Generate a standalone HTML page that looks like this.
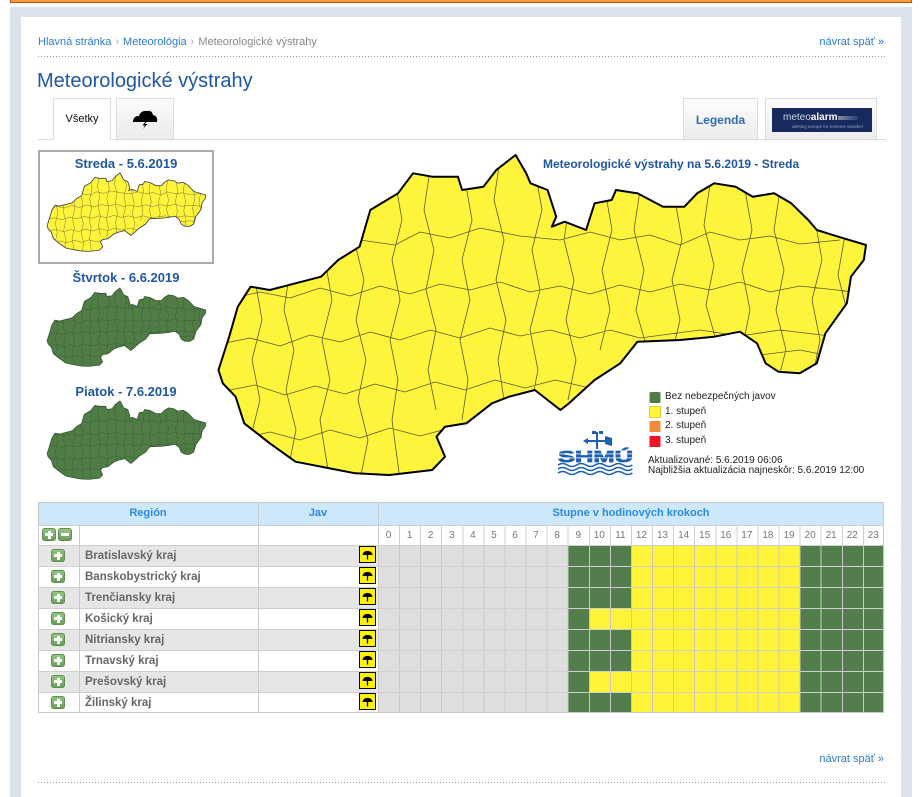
<!DOCTYPE html>
<html><head><meta charset="utf-8">
<style>
*{margin:0;padding:0;box-sizing:border-box}
body{width:923px;height:797px;overflow:hidden;background:#fff;position:relative;font-family:"Liberation Sans",Arial,sans-serif}
.a{position:absolute}
.lnk{color:#2b7bd0}
.sep{color:#aaa;margin:0 4px}
.dot{position:absolute;height:1px;background:linear-gradient(to right,#9a9a9a 1px,transparent 1px);background-size:3px 1px}
.pl{position:absolute;width:14px;height:13px;border-radius:3px;background:linear-gradient(#98c888,#689b59);box-shadow:inset 0 0 0 1px #5f9051}
.pl:before{content:"";position:absolute;left:3px;top:5px;width:8px;height:3px;background:#fff}
.pl.p:after{content:"";position:absolute;left:5.5px;top:2.5px;width:3px;height:8px;background:#fff}
.row{position:absolute;left:38px;width:846px;height:21px;border-top:1px solid #cfcfcf}
.g{background:#e6e6e6}
.w{background:#fff}
.rt{position:absolute;left:47px;top:0;line-height:20px;font-size:11.5px;font-weight:bold;color:#666}
.hr{position:absolute;left:340px;top:0;width:506px;height:20px}
.n{background:repeating-linear-gradient(to right,#c9c9c9 0 1px,transparent 1px 21.0833px),linear-gradient(to right,#dedede 0 189.75px,#527e4b 189.75px 253px,#fff43a 253px 421.67px,#527e4b 421.67px)}
.s{background:repeating-linear-gradient(to right,#c9c9c9 0 1px,transparent 1px 21.0833px),linear-gradient(to right,#dedede 0 189.75px,#527e4b 189.75px 210.83px,#fff43a 210.83px 421.67px,#527e4b 421.67px)}
.vl{position:absolute;width:1px;background:#cbcbcb}
.th{position:absolute;top:502px;height:23px;line-height:23px;text-align:center;font-size:11px;font-weight:bold;color:#2a8be0}
.tt{position:absolute;font-size:13px;font-weight:bold;color:#1f57a4;text-align:center;line-height:16px}
.hn{position:absolute;left:378px;top:526px;width:506px;height:19px;display:flex;background:repeating-linear-gradient(to right,#cfcfcf 0 1px,transparent 1px 21.0833px)}
.hn span{flex:1;text-align:center;font-size:10px;line-height:19px;color:#777}
.lg{position:absolute;left:665px;font-size:10px;line-height:12px;color:#222}
</style></head><body>

<!-- top orange strip -->
<div class="a" style="left:10px;top:-10px;width:902px;height:13px;background:#f2a03a;border:1px solid #c0501a"></div>
<!-- side band -->
<div class="a" style="left:10px;top:7px;width:902px;height:790px;background:#dae2ec"></div>
<!-- white panel -->
<div class="a" style="left:21px;top:17px;width:880px;height:780px;background:#fff"></div>

<!-- breadcrumb -->
<div class="a" style="left:38px;top:35px;font-size:11px;line-height:14px;color:#888;white-space:nowrap"><span class="lnk">Hlavná stránka</span><span class="sep">›</span><span class="lnk">Meteorológia</span><span class="sep">›</span>Meteorologické výstrahy</div>
<div class="a" style="right:39px;top:35px;font-size:11px;line-height:14px;color:#2b7bd0;white-space:nowrap">návrat späť »</div>
<div class="dot" style="left:38px;top:56px;width:848px"></div>

<!-- title -->
<div class="a" style="left:37px;top:68px;font-size:20px;line-height:26px;color:#1f57a4;white-space:nowrap">Meteorologické výstrahy</div>

<!-- tabs -->
<div class="a" style="left:38px;top:139px;width:848px;height:1px;background:#dcdcdc"></div>
<div class="a" style="left:53px;top:98px;width:58px;height:42px;background:#fff;border:1px solid #ddd;border-bottom:none;font-size:11px;line-height:40px;text-align:center;color:#111">Všetky</div>
<div class="a" style="left:116px;top:98px;width:58px;height:41px;background:linear-gradient(#fbfbfb,#ebebeb);border:1px solid #ddd;border-bottom:none"></div>
<div class="a" style="left:683px;top:98px;width:75px;height:41px;background:linear-gradient(#fdfdfd,#ececec);border:1px solid #ddd;border-bottom:none;font-size:12px;font-weight:bold;line-height:42px;text-align:center;color:#2c6cb8">Legenda</div>
<div class="a" style="left:765px;top:98px;width:112px;height:41px;background:linear-gradient(#fdfdfd,#ececec);border:1px solid #ddd;border-bottom:none"></div>
<div class="a" style="left:772px;top:108px;width:100px;height:24px;background:#172a5c"></div>
<div class="a" style="left:783px;top:112px;font-size:10px;line-height:11px;color:#c9d6ea;white-space:nowrap">meteo<b style="color:#fff">alarm</b></div>
<div class="a" style="left:838px;top:116px;width:20px;height:4px;background:linear-gradient(to right,#7f8fb0,#2a3d6c)"></div>
<div class="a" style="left:792px;top:124px;font-size:4.5px;line-height:5px;color:#8fa0c0;white-space:nowrap">alerting europe for extreme weather</div>

<!-- left thumbnails frame & titles -->
<div class="a" style="left:38px;top:150px;width:176px;height:114px;border:2px solid #ababab"></div>
<div class="tt" style="left:38px;top:156px;width:176px">Streda - 5.6.2019</div>
<div class="tt" style="left:38px;top:270px;width:176px">Štvrtok - 6.6.2019</div>
<div class="tt" style="left:38px;top:384px;width:176px">Piatok - 7.6.2019</div>

<!-- big map title -->
<div class="a" style="left:543px;top:157px;font-size:12px;font-weight:bold;line-height:14px;color:#1f57a4;white-space:nowrap">Meteorologické výstrahy na 5.6.2019 - Streda</div>

<!-- legend text -->
<div class="lg" style="top:391px">Bez nebezpečných javov</div>
<div class="lg" style="top:406px">1. stupeň</div>
<div class="lg" style="top:420px">2. stupeň</div>
<div class="lg" style="top:435px">3. stupeň</div>
<div class="a" style="left:648px;top:456px;font-size:10px;line-height:9.5px;color:#222;white-space:nowrap">Aktualizované: 5.6.2019 06:06<br>Najbližšia aktualizácia najneskôr: 5.6.2019 12:00</div>

<!-- table header -->
<div class="a" style="left:38px;top:502px;width:846px;height:23px;background:#cde8fa"></div>
<div class="th" style="left:38px;width:220px">Región</div>
<div class="th" style="left:258px;width:120px">Jav</div>
<div class="th" style="left:378px;width:506px">Stupne v hodinových krokoch</div>

<!-- hours row -->
<div class="row w" style="top:525px;height:20px"></div>
<div class="pl p" style="left:42px;top:528px"></div>
<div class="pl" style="left:58px;top:528px"></div>
<div class="hn"><span>0</span><span>1</span><span>2</span><span>3</span><span>4</span><span>5</span><span>6</span><span>7</span><span>8</span><span>9</span><span>10</span><span>11</span><span>12</span><span>13</span><span>14</span><span>15</span><span>16</span><span>17</span><span>18</span><span>19</span><span>20</span><span>21</span><span>22</span><span>23</span></div>

<!-- data rows -->
<div class="row g" style="top:545px"><div class="rt">Bratislavský kraj</div><div class="hr n"></div></div>
<div class="row w" style="top:566px"><div class="rt">Banskobystrický kraj</div><div class="hr n"></div></div>
<div class="row g" style="top:587px"><div class="rt">Trenčiansky kraj</div><div class="hr n"></div></div>
<div class="row w" style="top:608px"><div class="rt">Košický kraj</div><div class="hr s"></div></div>
<div class="row g" style="top:629px"><div class="rt">Nitriansky kraj</div><div class="hr n"></div></div>
<div class="row w" style="top:650px"><div class="rt">Trnavský kraj</div><div class="hr n"></div></div>
<div class="row g" style="top:671px"><div class="rt">Prešovský kraj</div><div class="hr s"></div></div>
<div class="row w" style="top:692px"><div class="rt">Žilinský kraj</div><div class="hr n"></div></div>

<div class="pl p" style="left:51px;top:549px"></div>
<div class="pl p" style="left:51px;top:570px"></div>
<div class="pl p" style="left:51px;top:591px"></div>
<div class="pl p" style="left:51px;top:612px"></div>
<div class="pl p" style="left:51px;top:633px"></div>
<div class="pl p" style="left:51px;top:654px"></div>
<div class="pl p" style="left:51px;top:675px"></div>
<div class="pl p" style="left:51px;top:696px"></div>

<!-- column dividers -->
<div class="vl" style="left:79px;top:525px;height:188px"></div>
<div class="vl" style="left:258px;top:502px;height:211px"></div>
<div class="vl" style="left:378px;top:502px;height:211px"></div>
<!-- outer border -->
<div class="a" style="left:38px;top:502px;width:846px;height:211px;border:1px solid #c8c8c8"></div>

<!-- bottom -->
<div class="a" style="right:39px;top:752px;font-size:11px;line-height:14px;color:#2b7bd0;white-space:nowrap">návrat späť »</div>
<div class="dot" style="left:38px;top:782px;width:848px"></div>

<svg class="a" style="left:0;top:0" width="923" height="797" viewBox="0 0 923 797">
<defs>
<path id="sk" d="M218.5,370 L229.2,336.7 L237.8,306.7 L250.6,286.7 L269.8,290 L295.5,283.3 L321.1,276.7 L338.2,260 L359.6,246.7 L370.3,210 L398,193.3 L413,173.3 L432.2,176.7 L457.9,176.7 L462.1,190 L483.5,186.7 L496.3,170 L504.9,163.3 L515.6,155 L526.2,173.3 L530.5,183.3 L547.6,190 L556.2,216.7 L551.9,226.7 L564.7,221.7 L586.1,230 L594.6,203.3 L611.7,200 L616,190 L637.4,193.3 L663,206.7 L684.4,206.7 L697.2,193.3 L714.3,183.3 L735.6,186.7 L752.7,196.7 L774.1,193.3 L791.2,203.3 L808.3,220 L816.8,230 L838.2,236.7 L866,245 L863.8,260 L851,276.7 L846.8,303.3 L825.4,333.3 L816.8,363.3 L799.7,373.3 L778.4,371.7 L765.6,363.3 L757,343.3 L739.9,331.7 L714.3,336.7 L680.1,340 L637.4,341.7 L620.3,363.3 L594.6,380 L569,403.3 L560.4,410 L534.8,390 L509.1,396.7 L492,403.3 L466.4,423.3 L445,426.7 L436.5,436.7 L445,456.7 L432.2,470 L389.5,475 L355.3,473.3 L338.2,470 L295.5,461.7 L269.8,443.3 L244.2,423.3 L235.6,396.7 L222.8,383.3 Z"/>
<path id="dl" d="M330,250 L360,240 L395,245 L420,232 L450,238 L480,228 L520,236 L560,240 L590,232 L620,240 L650,235 L680,245 L710,232 L740,240 L770,236 L800,244 L840,240
M225,300 L260,292 L290,298 L320,288 L350,296 L380,286 L410,294 L440,284 L470,290 L500,282 L530,292 L560,286 L590,294 L620,285 L650,292 L680,284 L710,290 L740,282 L770,292 L800,286 L855,292
M215,345 L250,338 L280,346 L310,335 L340,342 L370,332 L400,340 L430,330 L460,338 L490,328 L520,336 L550,330 L580,338 L610,330 L640,338 L700,330 L740,336 L780,330 L830,336
M220,392 L255,385 L285,395 L315,386 L345,394 L375,384 L405,392 L435,382 L465,390 L495,380 L525,388 L555,380 L590,388 M760,355 L800,350 L830,356
M235,440 L270,432 L300,440 L330,430 L360,438 L390,428 L420,436 L450,428
M255,280 L262,320 L252,360 L260,400 L250,440
M290,270 L284,310 L294,350 L286,390 L296,430 L288,470
M325,260 L332,300 L322,340 L330,380 L320,420 L328,470
M360,200 L354,240 L364,280 L356,320 L366,360 L358,400 L368,440 L360,480
M395,180 L402,220 L392,260 L400,300 L390,340 L398,380 L392,420 L400,480
M430,170 L424,210 L434,250 L426,290 L436,330 L428,370 L436,410
M465,180 L472,220 L462,260 L470,300 L460,340 L468,380 L462,420
M500,160 L494,200 L504,240 L496,280 L506,320 L498,360 L504,400
M535,170 L542,210 L532,250 L540,290 L530,330 L538,370 L532,400
M570,200 L564,240 L574,280 L566,320 L576,360 L568,400
M605,190 L612,230 L602,270 L610,310 L600,350
M640,190 L634,230 L644,270 L636,310 L646,345
M675,200 L682,240 L672,280 L680,320 L674,345
M710,185 L704,225 L714,265 L706,305 L716,340
M745,190 L752,230 L742,270 L750,310 L744,340
M780,190 L774,230 L784,270 L776,310 L786,350 L778,380
M815,220 L822,260 L812,300 L820,340 L814,370
M845,235 L838,275 L848,315"/>
<clipPath id="skc"><use href="#sk"/></clipPath>
<g id="umb"><rect x="0.5" y="0.5" width="16" height="16" fill="#fff200" stroke="#000" stroke-width="1"/><path d="M3.5,9 C4,3.5 13,3.5 13.5,9 Z" fill="#000"/><line x1="8.5" y1="9" x2="8.5" y2="13.5" stroke="#000" stroke-width="1.3"/></g>
</defs>

<!-- big map -->
<use href="#sk" fill="#fff43c"/>
<g clip-path="url(#skc)"><use href="#dl" fill="none" stroke="#5a5a30" stroke-width="0.8"/></g>
<use href="#sk" fill="none" stroke="#000" stroke-width="2" stroke-linejoin="round"/>

<!-- thumbnails -->
<g transform="translate(-6.4,135) scale(0.245)">
<use href="#sk" fill="#fff43c"/>
<g clip-path="url(#skc)"><use href="#dl" fill="none" stroke="#6a6a30" stroke-width="1.8"/></g>
<use href="#sk" fill="none" stroke="#444" stroke-width="3.5"/>
</g>
<g transform="translate(-6.4,250) scale(0.245)">
<use href="#sk" fill="#4f7d45"/>
<g clip-path="url(#skc)"><use href="#dl" fill="none" stroke="#3a5a34" stroke-width="1.8"/></g>
<use href="#sk" fill="none" stroke="#3a5a34" stroke-width="3.5"/>
</g>
<g transform="translate(-6.4,363) scale(0.245)">
<use href="#sk" fill="#4f7d45"/>
<g clip-path="url(#skc)"><use href="#dl" fill="none" stroke="#3a5a34" stroke-width="1.8"/></g>
<use href="#sk" fill="none" stroke="#3a5a34" stroke-width="3.5"/>
</g>

<!-- legend boxes -->
<rect x="649.5" y="392" width="11" height="11" rx="1.5" fill="#4f7d45"/>
<rect x="649.5" y="406.5" width="11" height="11" fill="#fff43c" stroke="#d8d040" stroke-width="1"/>
<rect x="649.5" y="421" width="11" height="11" fill="#ef8a3a"/>
<rect x="649.5" y="436" width="11" height="11" fill="#ee1428"/>

<!-- SHMU logo -->
<g fill="#1d5fb0" stroke="none">
<rect x="596" y="432" width="2" height="17"/>
<rect x="592" y="431" width="4" height="3"/>
<rect x="599" y="431" width="4" height="3"/>
<rect x="586" y="440" width="22" height="2"/>
<path d="M605,436 L612,438 L612,446 L605,444 Z"/>
<path d="M583,441 L588,438 L588,444 Z"/>
</g>
<text x="558" y="462" font-family="Liberation Sans, Arial, sans-serif" font-size="16" font-weight="bold" fill="#1d5fb0" stroke="#1d5fb0" stroke-width="0.8" textLength="75" lengthAdjust="spacingAndGlyphs">SHMÚ</text>
<rect x="557" y="453.5" width="77" height="0.8" fill="#fff"/>
<rect x="557" y="457.5" width="77" height="0.8" fill="#fff"/>
<g fill="none" stroke="#1d5fb0" stroke-width="1.6">
<path d="M558,465 q4.6,-3 9.3,0 t9.3,0 t9.3,0 t9.3,0 t9.3,0 t9.3,0 t9.3,0 t9.3,0"/>
<path d="M558,469 q4.6,-3 9.3,0 t9.3,0 t9.3,0 t9.3,0 t9.3,0 t9.3,0 t9.3,0 t9.3,0"/>
<path d="M558,473 q4.6,-3 9.3,0 t9.3,0 t9.3,0 t9.3,0 t9.3,0 t9.3,0 t9.3,0 t9.3,0"/>
</g>

<!-- storm tab icon -->
<path d="M133,122 Q133,116 139,116 Q141,110 147,111 Q152,110 153,115 Q158,116 157,122 Z" fill="#000"/>
<path d="M146,121 L142.5,125.5 L145,125.5 L143,129 L147.5,124 L145,124 L147,121 Z" fill="#000"/>

<!-- umbrella icons -->
<use href="#umb" x="359" y="546"/>
<use href="#umb" x="359" y="567"/>
<use href="#umb" x="359" y="588"/>
<use href="#umb" x="359" y="609"/>
<use href="#umb" x="359" y="630"/>
<use href="#umb" x="359" y="651"/>
<use href="#umb" x="359" y="672"/>
<use href="#umb" x="359" y="693"/>
</svg>
</body></html>
